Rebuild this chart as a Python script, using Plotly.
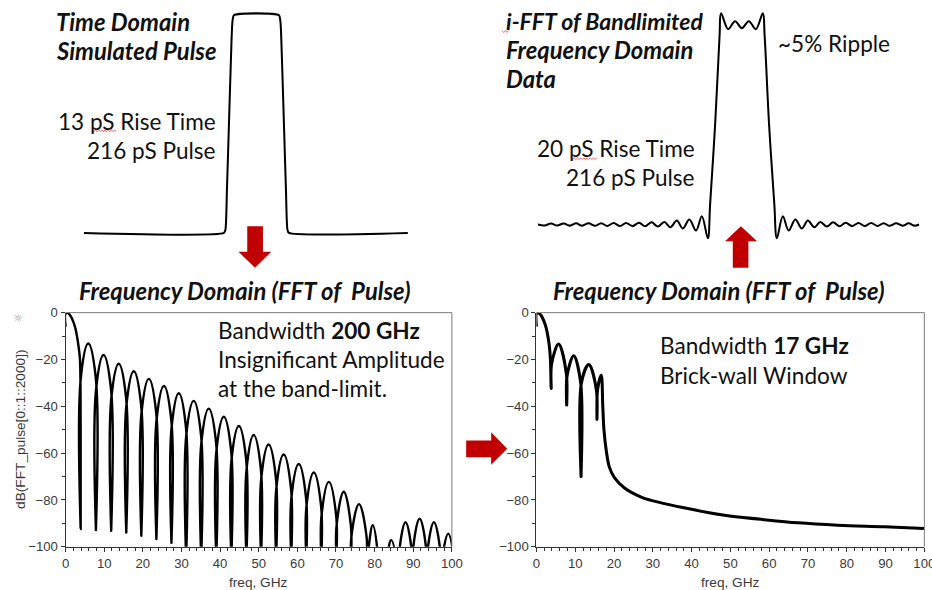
import plotly.graph_objects as go

# reference image size (all positions below are given in reference pixels)
RW, RH = 932, 590
# rendered figure size (the capture region of the page is slightly larger than the window)
FW, FH = 944, 598
S = FW / RW

# ---------------- data ----------------
# Top-left: simulated time-domain pulse (time in ps, normalised amplitude)
tl_time = [0, 560, 566, 572, 580, 588, 594, 600, 780, 786, 792, 800, 808, 814, 820, 1296]
tl_amp = [0, 0, 0.015, 0.2, 0.5, 0.8, 0.97, 1.0, 1.0, 0.97, 0.8, 0.5, 0.2, 0.015, 0, 0]

# Top-right: i-FFT of band-limited data (time in ps, normalised amplitude)
tr_time = [0, 27, 53, 77, 103, 129, 153, 177, 203, 229, 253, 277, 303, 329, 353, 379,
           405, 429, 455, 480, 506, 530, 556, 580, 606, 633, 656, 680, 689, 709, 727,
           733, 761, 789, 816, 844, 872, 900, 907, 925, 946, 956, 980, 1003, 1030, 1056,
           1080, 1106, 1130, 1156, 1181, 1207, 1231, 1257, 1283, 1307, 1333, 1359, 1383,
           1407, 1433, 1459, 1483, 1507, 1526]
tr_amp = [0, -0.005, 0.005, -0.005, 0.0055, -0.0055, 0.006, -0.006, 0.0065, -0.0065,
          0.007, -0.007, 0.0075, -0.0075, 0.008, -0.008, 0.009, -0.009, 0.011, -0.010,
          0.013, -0.0135, 0.02, -0.02, 0.025, -0.03, 0.0415, -0.0685, 0.1, 0.5, 0.95,
          1.06, 0.98, 1.02, 0.985, 1.02, 0.98, 1.06, 0.95, 0.5, 0.1, -0.0685, 0.0415,
          -0.03, 0.025, -0.02, 0.02, -0.0135, 0.013, -0.010, 0.011, -0.009, 0.009,
          -0.008, 0.008, -0.0075, 0.0075, -0.007, 0.007, -0.0065, 0.0065, -0.006, 0.006,
          -0.0055, 0]

# Bottom-left: FFT of full-bandwidth pulse (GHz, dB)
bl_freq = [0, 0.02, 0.5, 1.2, 1.9, 2.5, 3.0, 3.4, 3.7, 3.82, 3.9,
           3.98, 5.87, 7.77, 7.85,
           7.93, 9.82, 11.72, 11.8,
           11.88, 13.75, 15.62, 15.7,
           15.78, 17.65, 19.52, 19.6,
           19.68, 21.55, 23.42, 23.5,
           23.58, 25.45, 27.32, 27.4,
           27.48, 29.3, 31.12, 31.2,
           31.28, 33.15, 35.02, 35.1,
           35.18, 37.05, 38.92, 39.0,
           39.08, 40.95, 42.82, 42.9,
           42.98, 44.85, 46.72, 46.8,
           46.88, 48.7, 50.52, 50.6,
           50.68, 52.55, 54.42, 54.5,
           54.58, 56.45, 58.32, 58.4,
           58.48, 60.35, 62.22, 62.3,
           62.38, 64.25, 66.12, 66.2,
           66.28, 68.15, 70.02, 70.1,
           70.18, 72.0, 73.82, 73.9,
           73.98, 75.95, 77.92, 78.0,
           78.08, 79.5, 80.9, 81.0,
           82.4, 84.3, 86.1, 86.2,
           86.28, 88.0, 89.72, 89.8,
           89.88, 91.65, 93.42, 93.5,
           93.58, 95.35, 97.12, 97.2,
           97.28, 99.05, 100.8]
bl_db = [-6, -0.3, -0.1, -1.2, -3.5, -6.5, -10.6, -15, -19.5, -26, -92.5,
         -27.2, -13.2, -27.2, -92.9,
         -32.1, -18.1, -32.1, -93.2,
         -35.8, -21.8, -35.8, -93.9,
         -39, -25, -39, -95.3,
         -42.3, -28.3, -42.3, -96.7,
         -45.3, -31.3, -45.3, -98.3,
         -48.4, -34.4, -48.4, -105,
         -51.7, -37.7, -51.7, -105,
         -55, -41, -55, -105,
         -58.5, -44.5, -58.5, -105,
         -62.4, -48.4, -62.4, -105,
         -66.3, -52.3, -66.3, -105,
         -70.3, -56.3, -70.3, -105,
         -74.6, -60.6, -74.6, -105,
         -78.7, -64.7, -78.7, -105,
         -82.3, -68.3, -82.3, -105,
         -86.3, -72.3, -86.3, -105,
         -90.5, -76.5, -90.5, -105,
         -95.8, -81.8, -95.8, -105,
         -104.8, -90.8, -104.8, -115,
         -111.2, -97.2, -111.2, -115,
         -103.5, -89.5, -103.5, -115,
         -102, -88, -102, -115,
         -103.5, -89.5, -103.5, -115,
         -108.4, -94.4, -108.4]

# Bottom-right: FFT of band-limited (17 GHz brick-wall) data (GHz, dB)
br_freq = [0, 0.02, 0.5, 1.2, 1.9, 2.5, 3.0, 3.3, 3.6, 3.8,
           3.9, 5.7, 7.7, 7.8,
           7.9, 9.6, 11.4, 11.5,
           11.6, 13.5, 15.45, 15.6,
           15.75, 16.7, 17.1, 17.4, 18.0, 18.8, 20.1, 22.7, 27.0, 29.6,
           39.0, 48.5, 57.9, 67.4, 77.7, 89.7, 100]
br_db = [-6, -0.3, -0.1, -1.2, -3.5, -6.5, -10.6, -14, -20, -32.4,
         -22, -13.4, -26, -39.5,
         -27, -18.4, -30, -70,
         -30, -22.2, -33, -45.6,
         -33, -26.8, -40, -50, -59, -66, -70.5, -74.9, -78.8, -80.2,
         -83.7, -86.6, -88.3, -89.8, -90.8, -91.5, -92.2]

x_ticks = [0, 10, 20, 30, 40, 50, 60, 70, 80, 90, 100]
y_ticks = [0, -20, -40, -60, -80, -100]


# ---------------- helpers (reference pixel -> paper fraction) ----------------
# small correction for the capture offset observed in the rendered page
def px(x):
    xc = x - 2.5 * (923.0 - x) / 860.0
    return min(1.0, max(0.0, xc / RW))


def py(y):
    yc = y - 5.0 * (582.0 - y) / 569.0
    return min(1.0, max(0.0, 1 - yc / RH))


def pxf(x):
    return (x - 2.5 * (923.0 - x) / 860.0) / RW


def pyf(y):
    return 1 - (y - 5.0 * (582.0 - y) / 569.0) / RH


fig = go.Figure()

fig.add_trace(go.Scatter(x=tl_time, y=tl_amp, mode="lines", xaxis="x", yaxis="y",
                         line=dict(color="black", width=2 * S, shape="spline", smoothing=0.6),
                         hoverinfo="skip", showlegend=False))
fig.add_trace(go.Scatter(x=tr_time, y=tr_amp, mode="lines", xaxis="x2", yaxis="y2",
                         line=dict(color="black", width=2 * S, shape="spline", smoothing=1),
                         hoverinfo="skip", showlegend=False))
fig.add_trace(go.Scatter(x=bl_freq, y=bl_db, mode="lines", xaxis="x3", yaxis="y3",
                         line=dict(color="black", width=2.4 * S, shape="spline", smoothing=1.2),
                         hoverinfo="skip", showlegend=False))
fig.add_trace(go.Scatter(x=br_freq, y=br_db, mode="lines", xaxis="x4", yaxis="y4",
                         line=dict(color="black", width=3 * S, shape="spline", smoothing=1.0),
                         hoverinfo="skip", showlegend=False))

hidden = dict(visible=False, showgrid=False, zeroline=False, fixedrange=True)

tick_font = dict(family="Liberation Sans, Arial, sans-serif", size=13 * S, color="#3a3a3a")
ax_common = dict(showgrid=False, zeroline=False, showline=True, linecolor="#333333",
                 linewidth=1, ticks="outside", ticklen=4 * S, tickwidth=1, tickcolor="#333333",
                 tickfont=tick_font, fixedrange=True)
xcommon = dict(ax_common, range=[0, 100], tickvals=x_ticks,
               minor=dict(ticks="outside", ticklen=3 * S, tickwidth=1, tickcolor="#333333", dtick=2))
ycommon = dict(ax_common, range=[-100, 0], tickvals=y_ticks,
               minor=dict(ticks="outside", ticklen=3 * S, tickwidth=1, tickcolor="#333333", dtick=10))

bot_dom = [py(546.5), py(311.7)]

# top panels: amplitude v sits at reference pixel y = base - scale * v
TL_BASE, TL_SCALE = 231.7, 218.4
TR_BASE, TR_SCALE = 223.3, 200.0
TL_TOP, TR_TOP = 10.0, 8.0

fig.update_layout(
    width=FW, height=FH, autosize=False, margin=dict(l=0, r=0, t=0, b=0, pad=0),
    paper_bgcolor="white", plot_bgcolor="rgba(0,0,0,0)",
    xaxis=dict(hidden, domain=[px(82.7), px(406.7)], range=[0, 1296]),
    yaxis=dict(hidden, domain=[py(242.6), py(TL_TOP)],
               range=[-0.05, (TL_BASE - TL_TOP) / TL_SCALE]),
    xaxis2=dict(hidden, domain=[px(536.7), px(918.3)], range=[0, 1526]),
    yaxis2=dict(hidden, domain=[py(243.3), py(TR_TOP)],
                range=[-0.1, (TR_BASE - TR_TOP) / TR_SCALE]),
    xaxis3=dict(xcommon, domain=[px(64.3), px(450.7)], anchor="y3"),
    yaxis3=dict(ycommon, domain=bot_dom, anchor="x3"),
    xaxis4=dict(xcommon, domain=[px(535.3), px(923.3)], anchor="y4"),
    yaxis4=dict(ycommon, domain=bot_dom, anchor="x4"),
)

# top and right frame edges of the two plots
for xr, yr in (("x3 domain", "y3 domain"), ("x4 domain", "y4 domain")):
    fig.add_shape(type="line", xref=xr, yref=yr, x0=0, x1=1, y0=1, y1=1,
                  line=dict(color="#7a7a7a", width=1))
    fig.add_shape(type="line", xref=xr, yref=yr, x0=1, x1=1, y0=0, y1=1,
                  line=dict(color="#7a7a7a", width=1))

# red arrows
RED = "#C00000"


def poly_path(pts, close=True):
    p = "M " + " L ".join(f"{pxf(a):.5f},{pyf(b):.5f}" for a, b in pts)
    return p + (" Z" if close else "")


arrows = [
    [(246, 225), (261.7, 225), (261.7, 250.7), (270, 250.7), (253.8, 266.7), (237.3, 250.7), (246, 250.7)],
    [(731.7, 266.7), (747.3, 266.7), (747.3, 240), (756, 240), (739.8, 225), (724, 240), (731.7, 240)],
    [(465, 440), (490, 440), (490, 431.7), (506, 448.3), (490, 464.3), (490, 456.7), (465, 456.7)],
]
for pts in arrows:
    fig.add_shape(type="path", xref="paper", yref="paper", path=poly_path(pts),
                  fillcolor=RED, line=dict(color=RED, width=0))

# red spell-check squiggles (decoration)
squiggles = [(91, 116, 129), (570, 596, 157), (501, 508, 29.5)]
for x0, x1, y0 in squiggles:
    pts = []
    x = x0
    k = 0
    while x <= x1 + 0.01:
        pts.append((x, y0 + (1 if k % 2 else -0.5)))
        x += 1.6
        k += 1
    fig.add_shape(type="path", xref="paper", yref="paper", path=poly_path(pts, close=False),
                  line=dict(color="#e03030", width=0.8))

# ---------------- text ----------------
CAL = "Lato, Carlito, Calibri, sans-serif"
REG = 22.3
BI = 23.5


def txt(text, x, y, size=REG, xanchor="left", bold=False, italic=False, color="#111111",
        family=CAL, angle=0):
    t = text
    if bold:
        t = f"<b>{t}</b>"
    if italic:
        t = f"<i>{t}</i>"
    if xanchor == "left":
        x = x - 3
    fig.add_annotation(text=t, x=pxf(x), y=pyf(y), xref="paper", yref="paper",
                       xanchor=xanchor, yanchor="middle", showarrow=False,
                       textangle=angle, font=dict(family=family, size=size * S, color=color))


# top-left
txt("Time Domain", 56, 20, size=BI, bold=True, italic=True)
txt("Simulated Pulse", 56, 49, size=BI, bold=True, italic=True)
txt("13 pS Rise Time", 217, 120, xanchor="right")
txt("216 pS Pulse", 217, 149, xanchor="right")

# top-right
txt("i-FFT of Bandlimited", 506, 19, size=BI - 0.8, bold=True, italic=True)
txt("Frequency Domain", 506, 48, size=BI, bold=True, italic=True)
txt("Data", 506, 77, size=BI, bold=True, italic=True)
txt("~5% Ripple", 778, 42)
txt("20 pS Rise Time", 696, 147, xanchor="right")
txt("216 pS Pulse", 696, 176, xanchor="right")

# section titles
txt("Frequency Domain (FFT of  Pulse)", 243.3, 290, size=BI, xanchor="center", bold=True, italic=True)
txt("Frequency Domain (FFT of  Pulse)", 718.3, 290, size=BI, xanchor="center", bold=True, italic=True)

# bottom-left annotations
txt("Bandwidth <b>200 GHz</b>", 218, 330)
txt("Insignificant Amplitude", 218, 359)
txt("at the band-limit.", 218, 388)

# bottom-right annotations
txt("Bandwidth <b>17 GHz</b>", 660, 345)
txt("Brick-wall Window", 660, 375)

# axis titles
AX = "Liberation Sans, Arial, sans-serif"
txt("freq, GHz", 257.5, 582, size=13.5, xanchor="center", family=AX, color="#3a3a3a")
txt("freq, GHz", 729.3, 582, size=13.5, xanchor="center", family=AX, color="#3a3a3a")
txt("dB(FFT_pulse[0::1::2000])", 19, 429, size=13.5, xanchor="center", family=AX,
    color="#3a3a3a", angle=-90)
txt("☼", 17, 318, size=11, xanchor="center", family="DejaVu Sans", color="#9a9a9a")

post = ("document.documentElement.style.margin='0';document.body.style.margin='0';"
        "var gd=document.getElementById('{plot_id}');"
        "gd.style.position='fixed';gd.style.left='0px';gd.style.top='0px';")

fig.write_html("out.html", config={"displayModeBar": False}, post_script=post)
